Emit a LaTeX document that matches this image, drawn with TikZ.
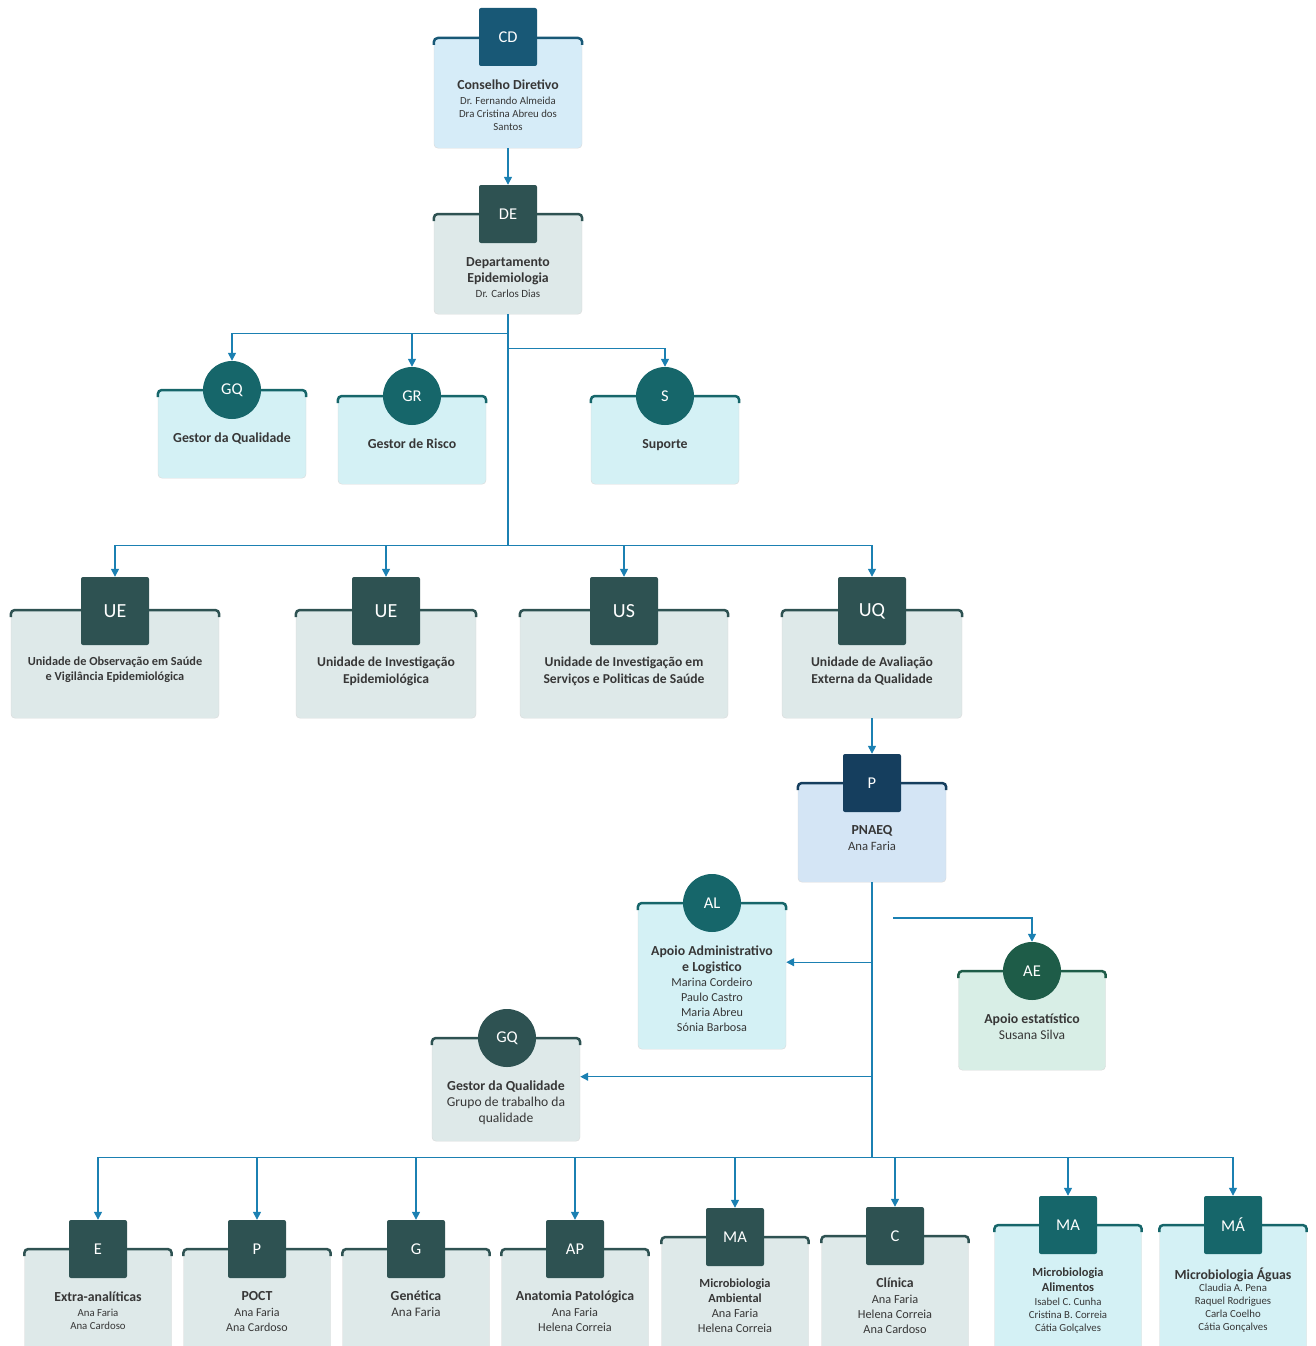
\documentclass[tikz,border=0pt]{standalone}
\usepackage{fontspec}
\setmainfont{Carlito}
\usetikzlibrary{arrows.meta}

\definecolor{linkblue}{RGB}{27,128,178}
\definecolor{cdcard}{RGB}{214,236,248}
\definecolor{cdsq}{RGB}{24,88,118}
\definecolor{greycard}{RGB}{222,233,233}
\definecolor{slate}{RGB}{46,82,82}
\definecolor{cyancard}{RGB}{212,241,245}
\definecolor{tealdark}{RGB}{22,102,106}
\definecolor{navy}{RGB}{21,62,94}
\definecolor{pcard}{RGB}{212,229,245}
\definecolor{mintcard}{RGB}{216,238,230}
\definecolor{greendark}{RGB}{30,92,72}
\definecolor{txtgrey}{RGB}{55,55,55}

\newcommand{\ttl}[1]{{\fontsize{13.8}{16}\selectfont\bfseries #1}}
\newcommand{\topband}[2]{\draw[line width=2.5pt, #2, rounded corners=4pt] ([yshift=-7pt]#1.north west) -- (#1.north west) -- (#1.north east) -- ([yshift=-7pt]#1.north east);}

\begin{document}
\begin{tikzpicture}[x=1pt, y=-1pt]
    \tikzstyle{card} = [draw=black!15, rounded corners=4pt, anchor=north, inner sep=0pt, minimum width=148pt]
    \tikzstyle{sq} = [rounded corners=2pt, minimum size=58pt, inner sep=0pt, text=white, font=\fontsize{16.5}{16.5}\selectfont]
    \tikzstyle{bigsq} = [sq, minimum size=68pt, font=\fontsize{20}{20}\selectfont]
    \tikzstyle{badge} = [circle, minimum size=58pt, inner sep=0pt, text=white, font=\fontsize{16.5}{16.5}\selectfont]
    \tikzstyle{txt} = [anchor=north, inner sep=0pt, align=center, text=txtgrey, font=\fontsize{10.8}{13}\selectfont]
    \tikzstyle{link} = [draw=linkblue, line width=1.4pt, -{Triangle[length=8pt, width=8pt]}]

    \useasboundingbox (0,0) rectangle (1315,1346);

    % board and department
    \node[card, fill=cdcard, minimum height=110pt] (cd) at (508,38) {};
    \topband{cd}{cdsq}
    \node[sq, fill=cdsq] (cdq) at (508,37) {CD};
    \node[txt] at (508,80) {\ttl{Conselho Diretivo}\\[2pt]Dr. Fernando Almeida\\Dra Cristina Abreu dos\\Santos};

    \node[card, fill=greycard, minimum height=100pt] (de) at (508,214) {};
    \topband{de}{slate}
    \node[sq, fill=slate] (deq) at (508,214) {DE};
    \node[txt, font=\fontsize{11}{13}\selectfont] at (508,257) {\ttl{Departamento}\\[3pt]\ttl{Epidemiologia}\\[2pt]Dr. Carlos Dias};

    \draw[link] (cd.south) -- (deq.north);

    % staff functions
    \node[card, fill=cyancard, minimum height=88pt] (gq) at (232,390) {};
    \topband{gq}{tealdark}
    \node[badge, fill=tealdark] (gqb) at (232,390) {GQ};
    \node[txt] at (232,433) {\ttl{Gestor da Qualidade}};

    \node[card, fill=cyancard, minimum height=88pt] (gr) at (412,396) {};
    \topband{gr}{tealdark}
    \node[badge, fill=tealdark] (grb) at (412,396) {GR};
    \node[txt] at (412,439) {\ttl{Gestor de Risco}};

    \node[card, fill=cyancard, minimum height=88pt] (s) at (665,396) {};
    \topband{s}{tealdark}
    \node[badge, fill=tealdark] (sb) at (665,396) {S};
    \node[txt] at (665,439) {\ttl{Suporte}};

    \draw[link] (de.south) -- ++(0,19) -| (gqb.north);
    \draw[link] (de.south) -- ++(0,19) -| (grb.north);
    \draw[link] (de.south) -- ++(0,34) -| (sb.north);

    % units
    \node[card, fill=greycard, minimum width=208pt, minimum height=108pt] (ueo) at (115,610) {};
    \topband{ueo}{slate}
    \node[bigsq, fill=slate] (ueoq) at (115,611) {UE};
    \node[txt, font=\fontsize{12.3}{15}\selectfont\bfseries] at (115,657) {Unidade de Observação em Saúde\\e Vigilância Epidemiológica};

    \node[card, fill=greycard, minimum width=180pt, minimum height=108pt] (uei) at (386,610) {};
    \topband{uei}{slate}
    \node[bigsq, fill=slate] (ueiq) at (386,611) {UE};
    \node[txt, font=\fontsize{13.6}{17}\selectfont\bfseries] at (386,657) {Unidade de Investigação\\Epidemiológica};

    \node[card, fill=greycard, minimum width=208pt, minimum height=108pt] (us) at (624,610) {};
    \topband{us}{slate}
    \node[bigsq, fill=slate] (usq) at (624,611) {US};
    \node[txt, font=\fontsize{13.6}{17}\selectfont\bfseries] at (624,657) {Unidade de Investigação em\\Serviços e Politicas de Saúde};

    \node[card, fill=greycard, minimum width=180pt, minimum height=108pt] (uq) at (872,610) {};
    \topband{uq}{slate}
    \node[bigsq, fill=slate] (uqq) at (872,611) {UQ};
    \node[txt, font=\fontsize{13.6}{17}\selectfont\bfseries] at (872,657) {Unidade de Avaliação\\Externa da Qualidade};

    \foreach \u in {ueoq, ueiq, usq, uqq}
        \draw[link] (de.south) -- ++(0,231) -| (\u.north);

    % PNAEQ
    \node[card, fill=pcard, minimum height=99pt] (p) at (872,783) {};
    \topband{p}{navy}
    \node[sq, fill=navy] (pq) at (872,783) {P};
    \node[txt, font=\fontsize{12.7}{16}\selectfont] at (872,825) {\ttl{PNAEQ}\\Ana Faria};

    \draw[link] (uq.south) -- (pq.north);

    \node[card, fill=cyancard, minimum height=146pt] (al) at (712,903) {};
    \topband{al}{tealdark}
    \node[badge, fill=tealdark] (alb) at (712,903) {AL};
    \node[txt, font=\fontsize{12.2}{15}\selectfont] at (712,946) {\ttl{Apoio Administrativo}\\[1pt]\ttl{e Logistico}\\Marina Cordeiro\\Paulo Castro\\Maria Abreu\\Sónia Barbosa};

    \node[card, fill=mintcard, minimum width=147pt, minimum height=99pt] (ae) at (1032,971) {};
    \topband{ae}{greendark}
    \node[badge, fill=greendark] (aeb) at (1032,971) {AE};
    \node[txt, font=\fontsize{13.5}{16}\selectfont] at (1032,1014) {\ttl{Apoio estatístico}\\Susana Silva};

    \node[card, fill=greycard, minimum height=103pt] (gqp) at (506,1038) {};
    \topband{gqp}{slate}
    \node[badge, fill=slate] (gqpb) at (507,1038) {GQ};
    \node[txt, font=\fontsize{13.6}{16}\selectfont] at (506,1081) {\ttl{Gestor da Qualidade}\\Grupo de trabalho da\\qualidade};

    \coordinate (aefrom) at (893,918);
    \draw[link] (aefrom) -| (aeb.north);
    \draw[link] (p.south) |- ([yshift=14pt]al.east);
    \draw[link] (p.south) |- ([yshift=13pt]gqp.east);

    % schemes
    \foreach \nm/\x/\t/\lab/\c/\f in {ext/98/1249/E/slate/greycard, poct/257/1249/P/slate/greycard,
        gen/416/1249/G/slate/greycard, ap/575/1249/AP/slate/greycard, mamb/735/1237/MA/slate/greycard,
        cli/895/1236/C/slate/greycard, malim/1068/1225/MA/tealdark/cyancard, magua/1233/1225/MÁ/tealdark/cyancard}
    {
        \node[card, fill=\f, minimum width=147pt, minimum height=130pt] (\nm) at (\x,\t) {};
        \topband{\nm}{\c}
        \node[sq, fill=\c] (q\nm) at (\x,\t) {\lab};
        \draw[link] (p.south) -- ++(0,275) -| (q\nm.north);
    }

    \node[txt, font=\fontsize{10.8}{13}\selectfont] at (98,1292) {\ttl{Extra-analíticas}\\[2pt]Ana Faria\\Ana Cardoso};
    \node[txt, font=\fontsize{12}{15}\selectfont] at (257,1291) {\ttl{POCT}\\[1pt]Ana Faria\\Ana Cardoso};
    \node[txt, font=\fontsize{13}{16}\selectfont] at (416,1291) {\ttl{Genética}\\Ana Faria};
    \node[txt, font=\fontsize{12.2}{15}\selectfont] at (575,1291) {\ttl{Anatomia Patológica}\\[1pt]Ana Faria\\Helena Correia};
    \node[txt, font=\fontsize{12.3}{15}\selectfont] at (735,1279) {{\fontsize{12.4}{15}\selectfont\bfseries Microbiologia}\\{\fontsize{12.4}{15}\selectfont\bfseries Ambiental}\\Ana Faria\\Helena Correia};
    \node[txt, font=\fontsize{12.3}{15}\selectfont] at (895,1278) {\ttl{Clínica}\\[1pt]Ana Faria\\Helena Correia\\Ana Cardoso};
    \node[txt, font=\fontsize{10.8}{13}\selectfont] at (1068,1268) {{\fontsize{12.4}{15}\selectfont\bfseries Microbiologia}\\[2pt]{\fontsize{12.4}{15}\selectfont\bfseries Alimentos}\\[1pt]Isabel C. Cunha\\Cristina B. Correia\\Cátia Golçalves};
    \node[txt, font=\fontsize{10.8}{13}\selectfont] at (1233,1268) {\ttl{Microbiologia Águas}\\[-1pt]Claudia A. Pena\\Raquel Rodrigues\\Carla Coelho\\Cátia Gonçalves};
\end{tikzpicture}
\end{document}
